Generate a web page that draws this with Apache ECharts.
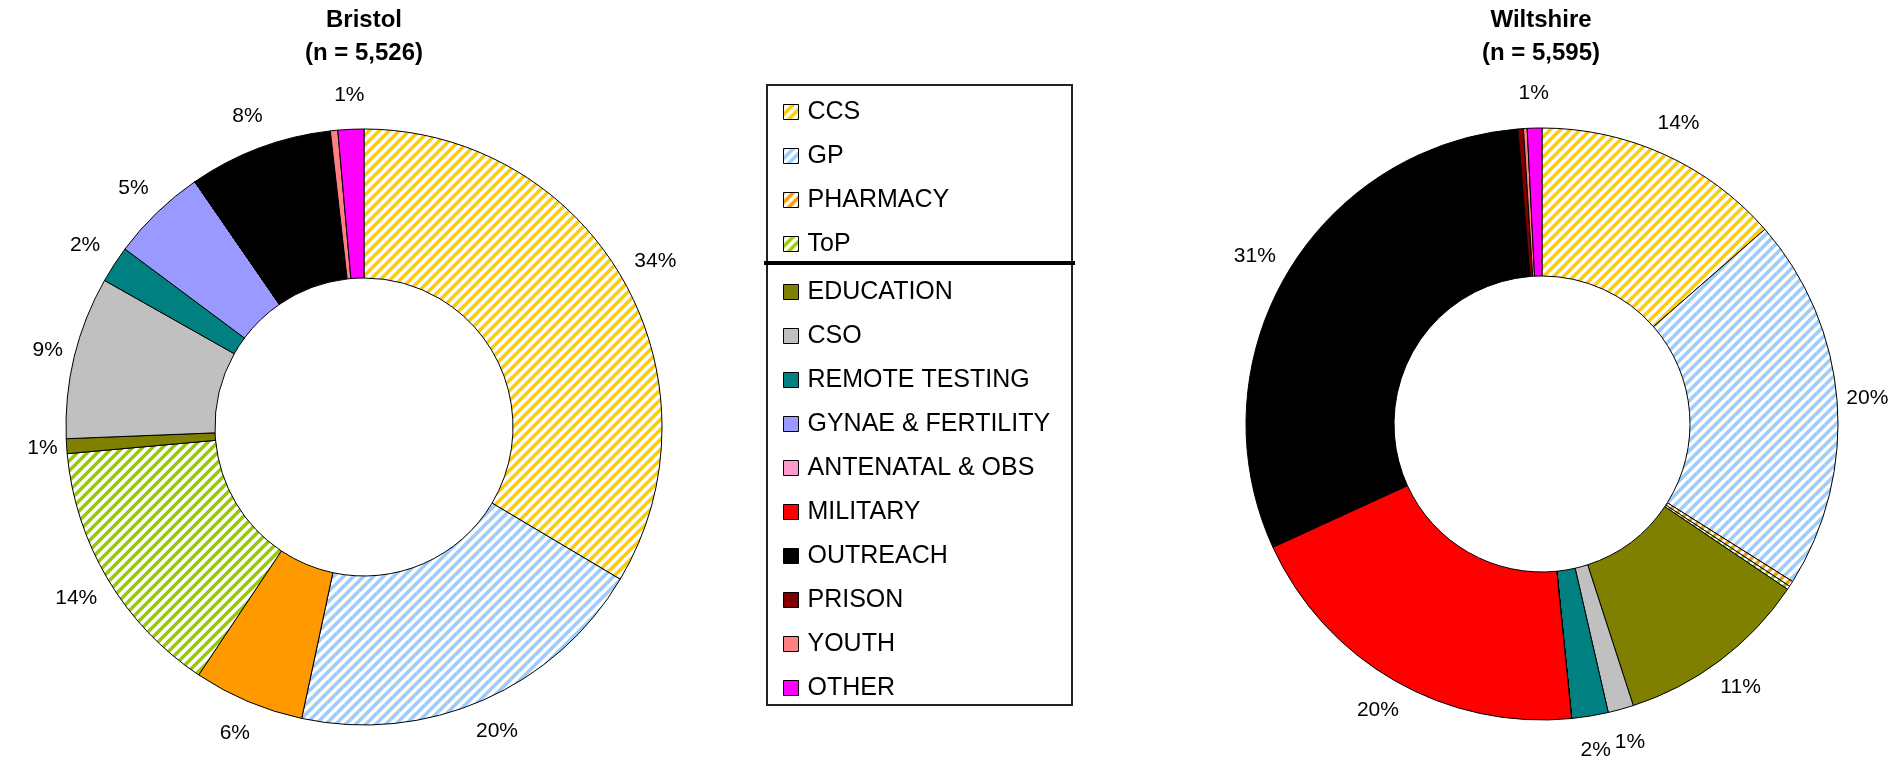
<!DOCTYPE html>
<html>
<head>
<meta charset="utf-8">
<script src="https://cdn.jsdelivr.net/npm/echarts@6/dist/echarts.min.js"></script>
<style>
  html, body { margin: 0; padding: 0; background: #fff; }
  #chart { width: 1892px; height: 758px; }
</style>
</head>
<body>
<div id="chart"></div>
<script>
// --- data ---
const categories = ['CCS', 'GP', 'PHARMACY', 'ToP', 'EDUCATION', 'CSO', 'REMOTE TESTING',
  'GYNAE & FERTILITY', 'ANTENATAL & OBS', 'MILITARY', 'OUTREACH', 'PRISON', 'YOUTH', 'OTHER'];
const topGroup = ['CCS', 'GP', 'PHARMACY', 'ToP'];
const bottomGroup = ['EDUCATION', 'CSO', 'REMOTE TESTING', 'GYNAE & FERTILITY', 'ANTENATAL & OBS',
  'MILITARY', 'OUTREACH', 'PRISON', 'YOUTH', 'OTHER'];
// share of tests (%)
const bristolValues = [33.5, 19.8, 6.0, 14.2, 0.8, 8.8, 2.0, 5.2, 0, 0, 7.8, 0, 0.4, 1.4];
const wiltshireValues = [13.6, 20.4, 0.3, 0.2, 10.6, 1.4, 2.0, 0, 0, 19.8, 30.6, 0.3, 0.2, 0.8];
const bristolTitle = ['Bristol', '(n = 5,526)'];
const wiltshireTitle = ['Wiltshire', '(n = 5,595)'];

// --- styles ---
const FONT = '"Liberation Sans", Arial, sans-serif';
const baseColors = {
  'CCS': '#FFCC00', 'GP': '#99CCFF', 'PHARMACY': '#FF9900', 'ToP': '#99CC00',
  'EDUCATION': '#808000', 'CSO': '#C0C0C0', 'REMOTE TESTING': '#008080',
  'GYNAE & FERTILITY': '#9999FF', 'ANTENATAL & OBS': '#FF99CC', 'MILITARY': '#FF0000',
  'OUTREACH': '#000000', 'PRISON': '#800000', 'YOUTH': '#FF8080', 'OTHER': '#FF00FF',
};
const hatched = ['CCS', 'GP', 'PHARMACY', 'ToP'];

// "/" stripes on white, like the Excel hatch fill
function stripes(color) {
  const s = 10;
  const c = document.createElement('canvas');
  c.width = s; c.height = s;
  const ctx = c.getContext('2d');
  ctx.fillStyle = '#fff';
  ctx.fillRect(0, 0, s, s);
  ctx.strokeStyle = color;
  ctx.lineWidth = 3.5;
  ctx.beginPath();
  ctx.moveTo(-2, s + 2); ctx.lineTo(s + 2, -2);
  ctx.moveTo(-3, 3); ctx.lineTo(3, -3);
  ctx.moveTo(s - 3, s + 3); ctx.lineTo(s + 3, s - 3);
  ctx.stroke();
  return { image: c, repeat: 'repeat' };
}

function sliceColor(name, solid) {
  if (hatched.includes(name) && !solid) return stripes(baseColors[name]);
  return baseColors[name];
}

// Excel-like label placement: just outside the ring, along the slice mid-angle
function labelPlacer(values, cx, cy, r) {
  const total = values.reduce((a, b) => a + b, 0);
  const mids = [];
  let acc = 0;
  values.forEach(v => { mids.push((acc + v / 2) / total * Math.PI * 2); acc += v; });
  return function (params) {
    const a = mids[params.dataIndex];
    const dx = Math.sin(a), dy = -Math.cos(a);
    const w = params.labelRect.width, h = params.labelRect.height;
    const ext = Math.min(w / 2 / Math.max(Math.abs(dx), 1e-6), h / 2 / Math.max(Math.abs(dy), 1e-6));
    const d = r + 8 + 16 * Math.abs(dy) + ext;
    return { x: cx + dx * d, y: cy + dy * d, align: 'center', verticalAlign: 'middle' };
  };
}

function donut(name, values, center, radius, solidNames) {
  return {
    name: name,
    type: 'pie',
    center: center,
    radius: radius,
    startAngle: 90,
    clockwise: true,
    avoidLabelOverlap: false,
    animation: false,
    emphasis: { disabled: true },
    itemStyle: { borderColor: '#000', borderWidth: 1 },
    label: {
      show: true,
      position: 'outside',
      color: '#000',
      fontFamily: FONT,
      fontSize: 21,
      formatter: p => Math.round(p.percent) >= 1 ? Math.round(p.percent) + '%' : '',
    },
    labelLine: { show: false, length: 10, length2: 0 },
    labelLayout: labelPlacer(values, center[0], center[1], radius[1]),
    data: categories.map((c, i) => ({
      name: c,
      value: values[i],
      itemStyle: { color: sliceColor(c, solidNames.includes(c)) },
    })),
  };
}

function titleText(lines, x) {
  return lines.map((t, i) => ({
    type: 'text', x: x, y: 20 + i * 33,
    style: { text: t, font: 'bold 24px ' + FONT, fill: '#000', align: 'center', verticalAlign: 'middle' },
  }));
}

const legendCommon = {
  orient: 'vertical',
  left: 778,
  itemWidth: 15,
  itemHeight: 15,
  itemGap: 14,
  selectedMode: false,
  icon: 'rect',
  itemStyle: { borderColor: '#000', borderWidth: 1 },
  textStyle: { color: '#000', fontFamily: FONT, fontSize: 25, lineHeight: 30, padding: [0, 0, 0, 4] },
};

const chart = echarts.init(document.getElementById('chart'), null, { renderer: 'canvas' });
chart.setOption({
  backgroundColor: '#fff',
  animation: false,
  legend: [
    Object.assign({}, legendCommon, { top: 92, data: topGroup }),
    Object.assign({}, legendCommon, { top: 272, data: bottomGroup }),
  ],
  graphic: [
    { type: 'rect', shape: { x: 767, y: 85, width: 305, height: 620 }, style: { fill: 'none', stroke: '#222', lineWidth: 2 } },
    { type: 'line', shape: { x1: 764, y1: 263, x2: 1075, y2: 263 }, style: { stroke: '#000', lineWidth: 4 } },
    ...titleText(bristolTitle, 364),
    ...titleText(wiltshireTitle, 1541),
  ],
  series: [
    // Wiltshire first so the legend picks up its hatched PHARMACY swatch
    donut('Wiltshire', wiltshireValues, [1542, 424], [148, 296], []),
    donut('Bristol', bristolValues, [364, 427], [149, 298], ['PHARMACY']),
  ],
});
</script>
</body>
</html>
